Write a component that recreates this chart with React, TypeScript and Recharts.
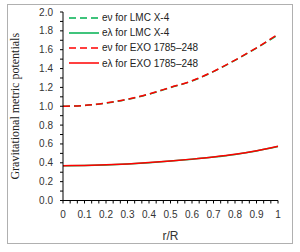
import React from "react";
import { LineChart, Line, XAxis, YAxis } from "recharts";

// r/R sample points and the four metric potentials
const rValues = [0, 0.1, 0.2, 0.3, 0.4, 0.5, 0.6, 0.7, 0.8, 0.9, 1];
const evLMC = [0.999, 1.008, 1.033, 1.073, 1.128, 1.198, 1.268, 1.368, 1.487, 1.617, 1.757];
const elLMC = [0.369, 0.371, 0.377, 0.387, 0.401, 0.418, 0.438, 0.461, 0.489, 0.526, 0.572];
const evEXO = [1.0, 1.009, 1.035, 1.075, 1.13, 1.2, 1.27, 1.37, 1.49, 1.62, 1.765];
const elEXO = [0.37, 0.372, 0.378, 0.388, 0.402, 0.419, 0.439, 0.462, 0.49, 0.528, 0.575];

const xMajorTicks = [0, 0.1, 0.2, 0.3, 0.4, 0.5, 0.6, 0.7, 0.8, 0.9, 1];
const yMajorTicks = [0, 0.2, 0.4, 0.6, 0.8, 1.0, 1.2, 1.4, 1.6, 1.8, 2.0];

const series = [
  { key: "evLMC", name: "eν for LMC X-4", color: "#00B050", dash: "7 4" },
  { key: "elLMC", name: "eλ for LMC X-4", color: "#00B050", dash: undefined },
  { key: "evEXO", name: "eν for EXO 1785–248", color: "#FF0000", dash: "7 4" },
  { key: "elEXO", name: "eλ for EXO 1785–248", color: "#FF0000", dash: undefined },
];

const data = rValues.map((r, i) => ({
  r,
  evLMC: evLMC[i],
  elLMC: elLMC[i],
  evEXO: evEXO[i],
  elEXO: elEXO[i],
}));

// minor ticks: x every 1/30, y every 0.1
const xTicks = xMajorTicks.slice(0, -1)
  .flatMap((t) => [t, t + 1 / 30, t + 2 / 30])
  .concat([1]);
const yTicks = yMajorTicks.slice(0, -1).flatMap((t) => [t, t + 0.1]).concat([2]);

const isMajor = (v: number, step: number) =>
  Math.abs(v / step - Math.round(v / step)) < 1e-6;

const tickFont = "'Liberation Sans', Arial, sans-serif";

const XTick = (props: any) => {
  const { x, y, payload } = props;
  const v = payload.value as number;
  if (!isMajor(v, 0.1)) return null;
  const label = v === 0 ? "0" : Math.abs(v - 1) < 1e-6 ? "1" : v.toFixed(1);
  return (
    <text x={x} y={y} dy={10} textAnchor="middle" fontSize={10} fontFamily={tickFont} fill="#333">
      {label}
    </text>
  );
};

const YTick = (props: any) => {
  const { x, y, payload } = props;
  const v = payload.value as number;
  if (!isMajor(v, 0.2)) return null;
  return (
    <text x={x} y={y} dy={3.5} textAnchor="end" fontSize={10} fontFamily={tickFont} fill="#333">
      {v.toFixed(1)}
    </text>
  );
};

function ChartLegend() {
  return (
    <div
      style={{
        position: "absolute",
        left: 69,
        top: 10,
        fontFamily: tickFont,
        fontSize: 10,
        color: "#222",
        lineHeight: "15.2px",
      }}
    >
      {series.map((s) => (
        <div key={s.key} style={{ display: "flex", alignItems: "center", height: 15.2, whiteSpace: "nowrap" }}>
          <svg width={30} height={6} style={{ marginRight: 3 }}>
            <line x1={0} y1={3} x2={30} y2={3} stroke={s.color} strokeWidth={1.5} strokeDasharray={s.dash} />
          </svg>
          <span>{s.name}</span>
        </div>
      ))}
    </div>
  );
}

export default function App() {
  return (
    <div style={{ position: "absolute", left: 0, top: 0, width: 300, height: 252, background: "#fff" }}>
      <div
        style={{
          position: "absolute",
          left: 7,
          top: 4,
          width: 284,
          height: 238,
          border: "1px solid #b0b0b0",
        }}
      />
      <div style={{ position: "absolute", left: 0, top: 0 }}>
        <LineChart width={300} height={252} data={data} margin={{ top: 12, right: 22, bottom: 0, left: 0 }}>
          <XAxis
            dataKey="r"
            type="number"
            domain={[0, 1]}
            ticks={xTicks}
            interval={0}
            tick={XTick}
            tickSize={3}
            tickMargin={4}
            height={51.5}
            stroke="#000"
            label={{
              value: "r/R",
              position: "insideBottom",
              offset: 12,
              style: { fontFamily: tickFont, fontSize: 12, fill: "#333" },
            }}
          />
          <YAxis
            type="number"
            domain={[0, 2]}
            ticks={yTicks}
            interval={0}
            tick={YTick}
            tickSize={3}
            tickMargin={7}
            width={63}
            stroke="#000"
            label={{
              value: "Gravitational metric potentials",
              angle: -90,
              position: "insideLeft",
              offset: 15,
              style: {
                textAnchor: "middle",
                fontFamily: "'Liberation Serif', 'Times New Roman', serif",
                fontSize: 12,
                fill: "#222",
              },
            }}
          />
          {series.map((s) => (
            <Line
              key={s.key}
              type="monotone"
              dataKey={s.key}
              name={s.name}
              stroke={s.color}
              strokeWidth={1.5}
              strokeDasharray={s.dash}
              dot={false}
              isAnimationActive={false}
            />
          ))}
        </LineChart>
      </div>
      <ChartLegend />
    </div>
  );
}
